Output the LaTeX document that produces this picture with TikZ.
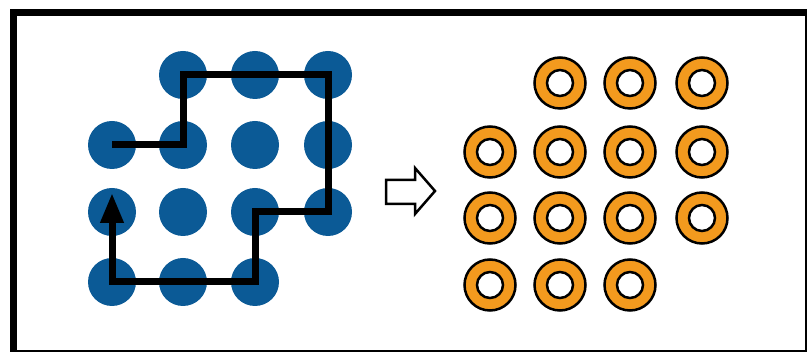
\documentclass[tikz,border=0pt]{standalone}
\usetikzlibrary{arrows.meta}
\definecolor{dotblue}{HTML}{0B5A96}
\definecolor{ringorange}{HTML}{F39A1E}
\begin{document}
\begin{tikzpicture}[x=1pt,y=-1pt,
  dot/.style={circle,fill=dotblue,minimum size=48pt,inner sep=0pt},
  ring/.style={circle,fill=ringorange,draw=black,line width=2.5pt,minimum size=51pt,inner sep=0pt},
  hole/.style={circle,fill=white,draw=black,line width=2.5pt,minimum size=26pt,inner sep=0pt},
  walk/.style={line width=7pt,line join=miter},
  frame/.style={line width=7.5pt},
  bigarrow/.style={draw=black,line width=2.5pt,fill=white,line join=miter}]
\useasboundingbox (0,0) rectangle (807,352);
\draw[frame] (13.5,12.5) rectangle (808.5,354);
% blue dots
\foreach \r/\y in {1/75,2/145,3/212,4/282}{
  \foreach \c/\x in {1/112,2/183,3/255,4/328}{
    \pgfmathtruncatemacro\k{\r*10+\c}
    \ifnum\k=11\relax\else\ifnum\k=44\relax\else
      \node[dot] (d\r\c) at (\x,\y) {};
    \fi\fi
  }
}
\coordinate (tipend) at (112,193);
\draw[walk,-{Triangle[length=30pt,width=22pt]}]
  (d21.center) -- (d22.center) -- (d12.center) -- (d14.center) -- (d34.center)
  -- (d33.center) -- (d43.center) -- (d41.center) -- (tipend);
% hollow arrow
\draw[bigarrow] (386,180) -- (415,180) -- (415,168) -- (435,191) -- (415,214) -- (415,204) -- (386,204) -- cycle;
% rings
\foreach \r/\y in {1/83,2/152,3/218,4/285}{
  \foreach \c/\x in {1/490,2/560,3/630,4/702}{
    \pgfmathtruncatemacro\k{\r*10+\c}
    \ifnum\k=11\relax\else\ifnum\k=44\relax\else
      \node[ring] (r\r\c) at (\x,\y) {};
      \node[hole] (h\r\c) at (r\r\c.center) {};
    \fi\fi
  }
}
\end{tikzpicture}
\end{document}
